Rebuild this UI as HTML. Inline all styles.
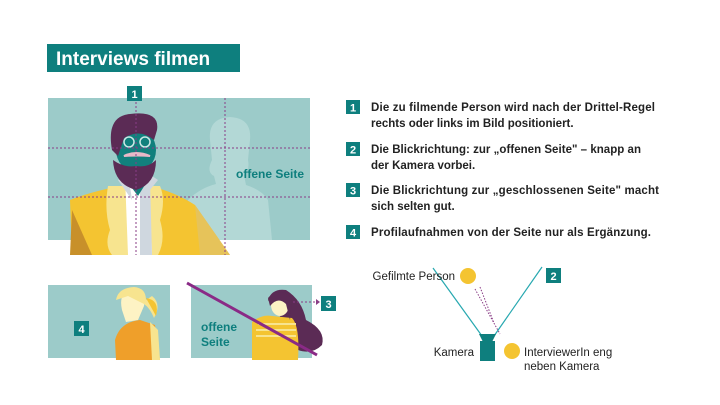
<!DOCTYPE html>
<html><head><meta charset="utf-8"><style>
html,body{margin:0;padding:0;background:#fff;}
svg{display:block;font-family:"Liberation Sans",sans-serif;}
</style></head><body>
<svg width="720" height="405" viewBox="0 0 720 405" xmlns="http://www.w3.org/2000/svg">
<rect width="720" height="405" fill="#fff"/>
<rect x="47" y="44" width="193" height="28" fill="#0e7f7e"/>
<text x="56" y="65" font-size="19" font-weight="bold" fill="#fff">Interviews filmen</text>

<rect x="48" y="98" width="262" height="142" fill="#9ccbc9"/>
<path d="M210 140 Q208 118 230 117 Q252 118 250 140 L248 160 Q250 170 244 175 L246 185 Q262 190 268 200 L272 240 L180 240 L188 200 Q200 188 216 184 L214 176 Q206 172 212 160 Z" fill="#b3d8d6"/>
<text x="236" y="178" font-size="12" font-weight="bold" fill="#0e7f7e">offene Seite</text>
<path d="M70 200 Q90 192 120 186 L150 186 Q175 192 195 205 L230 255 L72 255 Z" fill="#f4c431"/>
<path d="M72 210 L70 255 L92 255 Z" fill="#c8902a"/>
<path d="M195 205 L230 255 L200 255 Z" fill="#e6c35a"/>
<path d="M108 186 Q104 210 110 230 Q104 245 112 255 L158 255 Q166 240 160 220 Q166 200 160 186 Z" fill="#f7e48f"/>
<path d="M125 176 L149 176 L152 255 L128 255 Z" fill="#ffffff"/>
<path d="M140 178 L150 178 L152 255 L140 255 Z" fill="#cfd7df"/>
<path d="M118 180 L128 172 L132 200 Z M158 180 L146 172 L142 200 Z" fill="#cfd7df"/>
<path d="M122 150 L150 150 L148 180 L138 196 L126 180 Z" fill="#11807d"/>
<ellipse cx="136" cy="150" rx="20" ry="22" fill="#11807d"/>
<path d="M113 160 Q114 184 136 190 Q156 184 156 160 Q148 168 136 166 Q124 168 113 160 Z" fill="#5b2b55"/>
<path d="M112 150 Q106 116 130 114 Q160 110 157 130 L154 140 Q140 128 124 138 L118 156 Z" fill="#5b2b55"/>
<circle cx="129" cy="142" r="5" fill="none" stroke="#cde8e6" stroke-width="1.5"/>
<circle cx="145" cy="142" r="5" fill="none" stroke="#cde8e6" stroke-width="1.5"/>
<path d="M124 156 Q136 150 150 156 Q138 155 124 156 Z" fill="#e7b9c8" stroke="#e7b9c8" stroke-width="2"/>
<g stroke="#8a3d86" stroke-width="1" stroke-dasharray="2 2">
<line x1="48" y1="148" x2="310" y2="148"/>
<line x1="48" y1="197" x2="310" y2="197"/>
<line x1="136" y1="98" x2="136" y2="255"/>
<line x1="225" y1="98" x2="225" y2="255"/>
</g>
<rect x="127" y="86" width="15" height="15" fill="#0e7f7e"/>
<text x="134.5" y="98" font-size="11" font-weight="bold" fill="#fff" text-anchor="middle">1</text>

<rect x="48" y="285" width="122" height="73" fill="#9ccbc9"/>
<path d="M115 340 Q120 322 140 320 L155 325 L160 360 L116 360 Z" fill="#ef9f2a"/>
<path d="M150 322 L158 330 L160 360 L152 360 Z" fill="#f7e48f"/>
<path d="M122 310 Q118 292 132 290 Q146 292 144 306 L138 320 L126 322 Z" fill="#fdf3c4"/>
<path d="M116 300 Q118 288 134 287 Q146 288 146 300 L152 296 Q162 304 154 318 Q150 308 144 304 L128 296 Z" fill="#f7e48f"/>
<path d="M146 298 Q160 300 156 316 Z" fill="#f4c431"/>
<rect x="74" y="321" width="15" height="15" fill="#0e7f7e"/>
<text x="81.5" y="333" font-size="11" font-weight="bold" fill="#fff" text-anchor="middle">4</text>

<rect x="191" y="285" width="121" height="73" fill="#9ccbc9"/>
<path d="M268 300 Q272 288 286 290 Q302 300 306 320 Q326 330 322 345 Q312 355 298 350 L290 330 Z" fill="#5b2b55"/>
<path d="M252 322 Q262 314 272 316 L292 318 Q300 326 298 360 L252 360 Z" fill="#f4c431"/>
<path d="M258 324 L296 324 M256 330 L296 330 M256 336 L296 336" stroke="#f7e48f" stroke-width="2"/>
<ellipse cx="280" cy="305" rx="9" ry="11" fill="#fdf3c4"/>
<path d="M268 298 Q278 286 292 298 L290 320 L286 304 Q278 296 270 306 Z" fill="#5b2b55"/>
<text x="201" y="331" font-size="12" font-weight="bold" fill="#0e7f7e">offene</text>
<text x="201" y="346" font-size="12" font-weight="bold" fill="#0e7f7e">Seite</text>
<line x1="187" y1="283" x2="317" y2="355" stroke="#8a2a86" stroke-width="3"/>
<line x1="293" y1="302" x2="316" y2="302" stroke="#8a3d86" stroke-dasharray="2 2"/>
<path d="M316 299 L320 302 L316 305 Z" fill="#8a3d86"/>
<rect x="321" y="296" width="15" height="15" fill="#0e7f7e"/>
<text x="328.5" y="308" font-size="11" font-weight="bold" fill="#fff" text-anchor="middle">3</text>

<g font-size="11.5" font-weight="bold" fill="#222">
<rect x="346" y="100" width="14" height="14" fill="#0e7f7e"/><text x="353" y="111.5" fill="#fff" text-anchor="middle" font-size="11">1</text>
<text x="371" y="111" textLength="284">Die zu filmende Person wird nach der Drittel-Regel</text>
<text x="371" y="127">rechts oder links im Bild positioniert.</text>
<rect x="346" y="142" width="14" height="14" fill="#0e7f7e"/><text x="353" y="153.5" fill="#fff" text-anchor="middle" font-size="11">2</text>
<text x="371" y="153" textLength="270">Die Blickrichtung: zur „offenen Seite" – knapp an</text>
<text x="371" y="169">der Kamera vorbei.</text>
<rect x="346" y="183" width="14" height="14" fill="#0e7f7e"/><text x="353" y="194.5" fill="#fff" text-anchor="middle" font-size="11">3</text>
<text x="371" y="194" textLength="288">Die Blickrichtung zur „geschlossenen Seite" macht</text>
<text x="371" y="210">sich selten gut.</text>
<rect x="346" y="225" width="14" height="14" fill="#0e7f7e"/><text x="353" y="236.5" fill="#fff" text-anchor="middle" font-size="11">4</text>
<text x="371" y="236" textLength="280">Profilaufnahmen von der Seite nur als Ergänzung.</text>
</g>

<line x1="433" y1="268" x2="482" y2="336" stroke="#27a8b0" stroke-width="1.2"/>
<line x1="542" y1="267" x2="494" y2="336" stroke="#27a8b0" stroke-width="1.2"/>
<line x1="475" y1="289" x2="500" y2="334" stroke="#8a3d86" stroke-dasharray="1.5 1.5"/>
<line x1="480" y1="287" x2="494" y2="323" stroke="#8a3d86" stroke-dasharray="1.5 1.5"/>
<path d="M479 334 L496 334 L492 342 L483 342 Z" fill="#0e7f7e"/>
<rect x="480" y="341" width="15" height="20" fill="#0e7f7e"/>
<circle cx="468" cy="276" r="8" fill="#f4c431"/>
<circle cx="512" cy="351" r="8" fill="#f4c431"/>
<rect x="546" y="268" width="15" height="15" fill="#0e7f7e"/>
<text x="553.5" y="280" font-size="11" font-weight="bold" fill="#fff" text-anchor="middle">2</text>
<g font-size="11.5" fill="#222">
<text x="455" y="280" text-anchor="end">Gefilmte Person</text>
<text x="474" y="356" text-anchor="end">Kamera</text>
<text x="524" y="356">InterviewerIn eng</text>
<text x="524" y="370">neben Kamera</text>
</g>
</svg>
</body></html>
